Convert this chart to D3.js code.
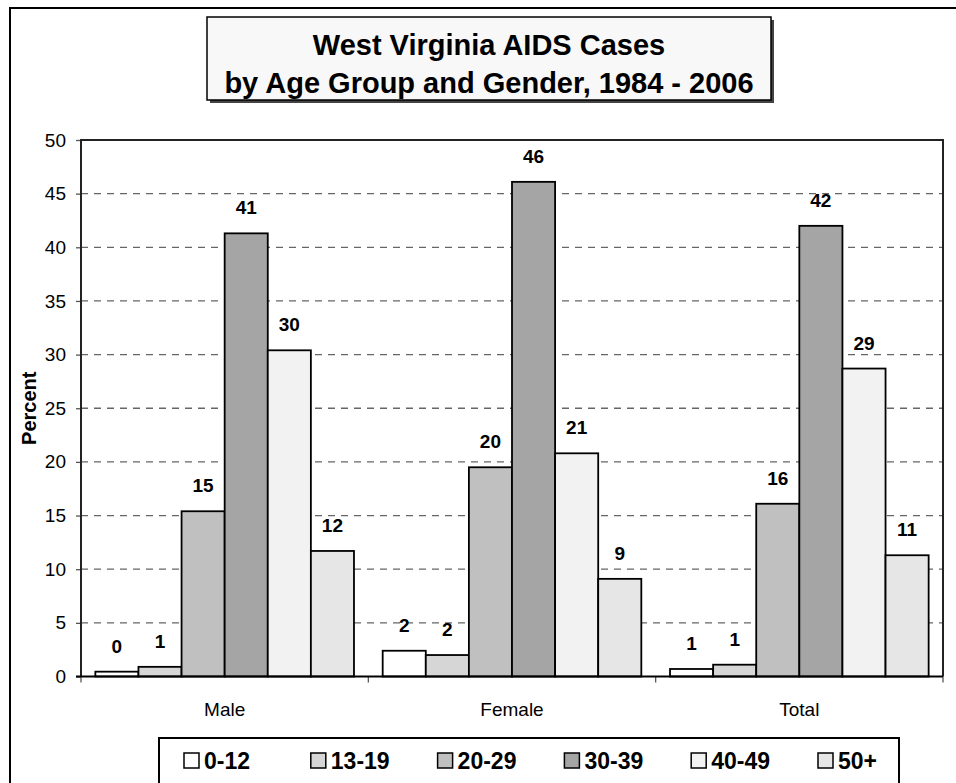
<!DOCTYPE html>
<html>
<head>
<meta charset="utf-8">
<script src="https://cdn.jsdelivr.net/npm/d3@7"></script>
<style>
  html, body { margin: 0; padding: 0; background: #fff; }
  svg { display: block; font-family: Arial, "Liberation Sans", sans-serif; }
</style>
</head>
<body>
<svg id="chart" width="956" height="783"></svg>
<script>
// West Virginia AIDS cases, percent by age group within each gender
const categories = ["Male", "Female", "Total"];
const ageGroups = ["0-12", "13-19", "20-29", "30-39", "40-49", "50+"];
const maleValues   = [0.45, 0.9, 15.4, 41.3, 30.4, 11.7];
const femaleValues = [2.4, 2.0, 19.5, 46.1, 20.8, 9.1];
const totalValues  = [0.7, 1.1, 16.1, 42.0, 28.7, 11.3];
const yTickValues  = [0, 5, 10, 15, 20, 25, 30, 35, 40, 45, 50];
const titleLines   = ["West Virginia AIDS Cases", "by Age Group and Gender, 1984 - 2006"];
const groupFills   = ["#ffffff", "#d6d6d6", "#c0c0c0", "#a5a5a5", "#f2f2f2", "#e6e6e6"];

const seriesByCategory = { Male: maleValues, Female: femaleValues, Total: totalValues };

const svg = d3.select("#chart");

// outer frame (top and left edges)
svg.append("path")
  .attr("d", "M10,783 L10,8 L956,8")
  .attr("fill", "none").attr("stroke", "#000").attr("stroke-width", 2);

// plot area geometry
const plot = { left: 81, right: 943, top: 140, bottom: 676.5 };

const x0 = d3.scaleBand().domain(categories).range([plot.left, plot.right]).padding(0);
const x1 = d3.scaleBand().domain(ageGroups).range([0, x0.bandwidth()])
  .paddingInner(0).paddingOuter(0.333);
const y = d3.scaleLinear().domain([0, 50]).range([plot.bottom, plot.top]);
const color = d3.scaleOrdinal().domain(ageGroups).range(groupFills);

// dashed gridlines
svg.append("g")
  .selectAll("line")
  .data(yTickValues.filter(v => v > 0 && v < 50))
  .join("line")
  .attr("x1", plot.left).attr("x2", plot.right)
  .attr("y1", d => y(d)).attr("y2", d => y(d))
  .attr("stroke", "#666").attr("stroke-width", 1.3)
  .attr("stroke-dasharray", "7,6");

// y axis
const yAxis = svg.append("g")
  .attr("transform", `translate(${plot.left},0)`)
  .call(d3.axisLeft(y).tickValues(yTickValues).tickSize(5).tickPadding(10));
yAxis.select(".domain").remove();
yAxis.selectAll(".tick line").attr("stroke", "#555").attr("stroke-width", 1.3);
yAxis.selectAll(".tick text")
  .attr("font-size", 19).attr("fill", "#000")
  .attr("font-family", "Arial, 'Liberation Sans', sans-serif");

// x axis (ticks at category boundaries)
const xAxisG = svg.append("g").attr("transform", `translate(0,${plot.bottom})`);
xAxisG.selectAll("line")
  .data(categories.map(c => x0(c)).concat([plot.right]))
  .join("line")
  .attr("x1", d => d).attr("x2", d => d)
  .attr("y1", 0).attr("y2", 6)
  .attr("stroke", "#555").attr("stroke-width", 1.3);
xAxisG.selectAll("text")
  .data(categories)
  .join("text")
  .attr("x", d => x0(d) + x0.bandwidth() / 2)
  .attr("y", 39)
  .attr("text-anchor", "middle")
  .attr("font-size", 19)
  .text(d => d);

// bars
const groups = svg.append("g")
  .selectAll("g")
  .data(categories)
  .join("g")
  .attr("transform", d => `translate(${x0(d)},0)`);

const barData = c => ageGroups.map((g, i) => ({ group: g, value: seriesByCategory[c][i] }));

groups.selectAll("rect")
  .data(barData)
  .join("rect")
  .attr("x", d => x1(d.group))
  .attr("width", x1.bandwidth())
  .attr("y", d => y(d.value))
  .attr("height", d => y(0) - y(d.value))
  .attr("fill", d => color(d.group))
  .attr("stroke", "#000").attr("stroke-width", 1.8);

groups.selectAll("text")
  .data(barData)
  .join("text")
  .attr("x", d => x1(d.group) + x1.bandwidth() / 2)
  .attr("y", d => y(d.value) - 19)
  .attr("text-anchor", "middle")
  .attr("font-size", 19).attr("font-weight", "bold")
  .text(d => d3.format(".0f")(Math.round(d.value)));

// plot frame: top, left, right edges and baseline
svg.append("path")
  .attr("d", `M${plot.left},${plot.bottom} L${plot.left},${plot.top} L${plot.right},${plot.top} L${plot.right},${plot.bottom}`)
  .attr("fill", "none").attr("stroke", "#222").attr("stroke-width", 2);
svg.append("line")
  .attr("x1", plot.left - 5).attr("x2", plot.right)
  .attr("y1", plot.bottom).attr("y2", plot.bottom)
  .attr("stroke", "#000").attr("stroke-width", 2);

// y axis title
svg.append("text")
  .attr("transform", `translate(36,${(plot.top + plot.bottom) / 2}) rotate(-90)`)
  .attr("text-anchor", "middle")
  .attr("font-size", 20).attr("font-weight", "bold")
  .text("Percent");

// title box with shadow
const tb = { x: 207, y: 17, w: 564, h: 83 };
svg.append("rect")
  .attr("x", tb.x + 3).attr("y", tb.y + 3).attr("width", tb.w).attr("height", tb.h)
  .attr("fill", "#444");
svg.append("rect")
  .attr("x", tb.x).attr("y", tb.y).attr("width", tb.w).attr("height", tb.h)
  .attr("fill", "#f8f8f8").attr("stroke", "#000").attr("stroke-width", 1.5);
svg.append("g")
  .selectAll("text")
  .data(titleLines)
  .join("text")
  .attr("x", tb.x + tb.w / 2)
  .attr("y", (d, i) => 55 + i * 38)
  .attr("text-anchor", "middle")
  .attr("font-size", 29).attr("font-weight", "bold")
  .text(d => d);

// legend
const lg = { x: 159, y: 738, w: 740, h: 60 };
svg.append("rect")
  .attr("x", lg.x).attr("y", lg.y).attr("width", lg.w).attr("height", lg.h)
  .attr("fill", "#fff").attr("stroke", "#000").attr("stroke-width", 2);
const legendX = d3.scalePoint().domain(ageGroups).range([184, 818]);
const items = svg.append("g")
  .selectAll("g")
  .data(ageGroups)
  .join("g")
  .attr("transform", d => `translate(${legendX(d)},753)`);
items.append("rect")
  .attr("width", 15).attr("height", 15)
  .attr("fill", d => color(d))
  .attr("stroke", "#000").attr("stroke-width", 1.5);
items.append("text")
  .attr("x", 20).attr("y", 15.5)
  .attr("font-size", 23).attr("font-weight", "bold")
  .text(d => d);
</script>
</body>
</html>
